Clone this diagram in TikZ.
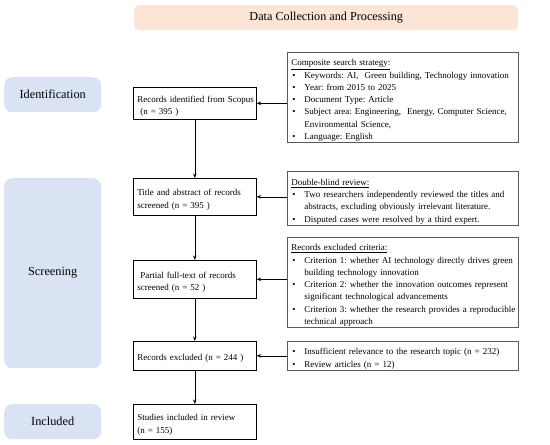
\documentclass[tikz,border=0pt]{standalone}
\usepackage{fontspec}
\setmainfont{Liberation Serif}
\usetikzlibrary{arrows.meta}
\definecolor{hdr}{HTML}{FCE4D6}
\definecolor{lbl}{HTML}{DAE3F3}
\definecolor{rbd}{HTML}{595959}
\frenchspacing
\newcommand{\bitem}[1]{\par\noindent\makebox[13pt][l]{\hspace{1pt}\textbullet}\mbox{#1}}
\newcommand{\bcont}[1]{\par\noindent\hspace*{13pt}\mbox{#1}}
\newcommand{\tline}[1]{\par\noindent\mbox{#1}}
\begin{document}
\begin{tikzpicture}[x=1pt,y=-1pt,
 txt/.style={font=\fontsize{9}{12.3}\selectfont\frenchspacing},
 mainbox/.style={draw=black, line width=0.6pt, anchor=north west, minimum width=123pt, text width=115pt, inner xsep=4pt, inner ysep=2pt, align=left, txt},
 sidebox/.style={draw=rbd, line width=0.9pt, anchor=north west, minimum width=231pt, text width=223pt, inner xsep=4pt, inner ysep=1pt, align=left, txt},
 stagebox/.style={fill=lbl, rounded corners=8pt, anchor=north west, minimum width=97pt, font=\fontsize{12.3}{14}\selectfont},
 hdrbox/.style={fill=hdr, rounded corners=5pt, anchor=north west, minimum width=384pt, minimum height=25pt, font=\fontsize{12.2}{14}\selectfont},
 arr/.style={-{Stealth[length=4.5pt,width=3.5pt]}, line width=0.6pt}
]
\useasboundingbox (0,0) rectangle (550,445);

\node[hdrbox] (H) at (134,5) {Data Collection and Processing};

\node[stagebox, minimum height=35pt] (S1) at (4,77) {Identification};
\node[stagebox, minimum height=190pt] (S2) at (4,178) {Screening};
\node[stagebox, minimum height=35pt] (S3) at (4,404) {Included};

\node[mainbox, minimum height=32pt] (A) at (133,87) {\tline{Records identified from Scopus}\tline{\ (n = 395 )}};
\node[mainbox, minimum height=37pt] (B) at (133,178) {\tline{Title and abstract of records}\tline{screened (n = 395 )}};
\node[mainbox, minimum height=38pt] (C) at (133,260) {\tline{\ Partial full-text of records}\tline{screened (n = 52 )}};
\node[mainbox, minimum height=29pt] (D) at (133,341) {\tline{Records excluded (n = 244 )}};
\node[mainbox, minimum height=35pt] (E) at (133,404) {\tline{Studies included in review}\tline{(n = 155)}};

\node[sidebox, minimum height=86pt] (R1) at (287,52) {\tline{\underline{Composite search strategy:}}
\bitem{Keywords: AI,\ \ Green building, Technology innovation}
\bitem{Year: from 2015 to 2025}
\bitem{Document Type: Article}
\bitem{Subject area: Engineering,\ \ Energy, Computer Science,}
\bcont{Environmental Science,}
\bitem{Language: English}};

\node[sidebox, minimum height=54pt] (R2) at (287,171) {\tline{\underline{Double-blind review:}}
\bitem{Two researchers independently reviewed the titles and}
\bcont{abstracts, excluding obviously irrelevant literature.}
\bitem{Disputed cases were resolved by a third expert.}};

\node[sidebox, minimum height=85pt] (R3) at (287,237) {\tline{\underline{Records excluded criteria:}}
\bitem{Criterion 1: whether AI technology directly drives green}
\bcont{building technology innovation}
\bitem{Criterion 2: whether the innovation outcomes represent}
\bcont{significant technological advancements}
\bitem{Criterion 3: whether the research provides a reproducible}
\bcont{technical approach}};

\node[sidebox, minimum height=29pt] (R4) at (287,341) {\bitem{Insufficient relevance to the research topic (n = 232)}
\bitem{Review articles (n = 12)}};

\draw[arr] (A) -- (B);
\draw[arr] (B) -- (C);
\draw[arr] (C) -- (D);
\draw[arr] (D) -- (E);

\draw[arr] (A.center -| R1.west) -- (A.east);
\draw[arr] (B.center -| R2.west) -- (B.east);
\draw[arr] (C.center -| R3.west) -- (C.east);
\draw[arr] (D.center -| R4.west) -- (D.east);
\end{tikzpicture}
\end{document}
